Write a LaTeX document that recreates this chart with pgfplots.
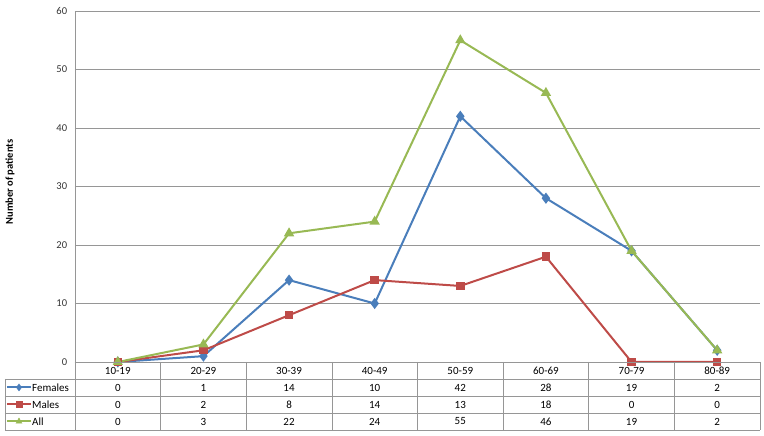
\documentclass[border=0pt]{standalone}
\usepackage{pgfplots}
\pgfplotsset{compat=1.18}
\usepackage{fontspec}
\setmainfont{Carlito}
\definecolor{fem}{RGB}{74,126,187}
\definecolor{mal}{RGB}{190,75,72}
\definecolor{all}{RGB}{152,185,84}
\definecolor{gridc}{RGB}{150,150,150}
\begin{document}
\fontsize{11}{13}\selectfont
\begin{tikzpicture}[x=1pt,y=1pt]
\useasboundingbox (-75,-74) rectangle (689,362);
\begin{axis}[at={(0,0)},anchor=south west,scale only axis,width=685pt,height=351pt,
  xmin=-0.5,xmax=7.5,ymin=0,ymax=60,ytick={0,10,...,60},xtick=\empty,
  axis x line*=bottom,axis y line*=left,axis line style={gridc,-},
  ymajorgrids,grid style={gridc,line width=0.6pt},major tick length=0pt,
  /pgf/number format/assume math mode=true,
  tick label style={font=\fontsize{10.5}{12}\selectfont,text=black!80},
  yticklabel style={xshift=-4pt},clip=false,
  every axis plot/.append style={line width=2pt}]
\addplot[fem,mark=diamond*,mark size=4pt] coordinates {(0,0)(1,1)(2,14)(3,10)(4,42)(5,28)(6,19)(7,2)};
\addplot[mal,mark=square*,mark size=3.2pt] coordinates {(0,0)(1,2)(2,8)(3,14)(4,13)(5,18)(6,0)(7,0)};
\addplot[all,mark=triangle*,mark size=4pt] coordinates {(0,0)(1,3)(2,22)(3,24)(4,55)(5,46)(6,19)(7,2)};
\end{axis}
\node[rotate=90,font=\fontsize{10.5}{12}\selectfont\bfseries] at (-65,180) {Number of patients};
% data table
\def\cw{85.625}
\draw[gridc,line width=0.6pt] (0,0) -- (685,0);
\foreach \yy in {-17,-34,-51,-68} \draw[gridc,line width=0.6pt] (-70,\yy) -- (685,\yy);
\draw[gridc,line width=0.6pt] (-70,-17) -- (-70,-68);
\foreach \k in {0,...,8} \draw[gridc,line width=0.6pt] (\k*\cw,0) -- (\k*\cw,-68);
\foreach \lab [count=\i from 0] in {10-19,20-29,30-39,40-49,50-59,60-69,70-79,80-89}
  \node at ({(\i+0.5)*\cw},-8.5) {\lab};
\foreach \v [count=\i from 0] in {0,1,14,10,42,28,19,2}
  \node at ({(\i+0.5)*\cw},-25.5) {\v};
\foreach \v [count=\i from 0] in {0,2,8,14,13,18,0,0}
  \node at ({(\i+0.5)*\cw},-42.5) {\v};
\foreach \v [count=\i from 0] in {0,3,22,24,55,46,19,2}
  \node at ({(\i+0.5)*\cw},-59.5) {\v};
% legend keys
\draw[fem,line width=2pt] (-68,-25.5) -- (-44,-25.5);
\draw[mal,line width=2pt] (-68,-42.5) -- (-44,-42.5);
\draw[all,line width=2pt] (-68,-59.5) -- (-44,-59.5);
\begin{scope}[shift={(-56,-25.5)}]\pgfsetfillcolor{fem}\pgfsetstrokecolor{fem}\pgfsetplotmarksize{3.5pt}\pgfuseplotmark{diamond*}\end{scope}
\begin{scope}[shift={(-56,-42.5)}]\pgfsetfillcolor{mal}\pgfsetstrokecolor{mal}\pgfsetplotmarksize{3pt}\pgfuseplotmark{square*}\end{scope}
\begin{scope}[shift={(-56,-59.5)}]\pgfsetfillcolor{all}\pgfsetstrokecolor{all}\pgfsetplotmarksize{3.5pt}\pgfuseplotmark{triangle*}\end{scope}
\node[anchor=west,inner sep=0] at (-43,-25.5) {Females};
\node[anchor=west,inner sep=0] at (-43,-42.5) {Males};
\node[anchor=west,inner sep=0] at (-43,-59.5) {All};
\end{tikzpicture}
\end{document}
